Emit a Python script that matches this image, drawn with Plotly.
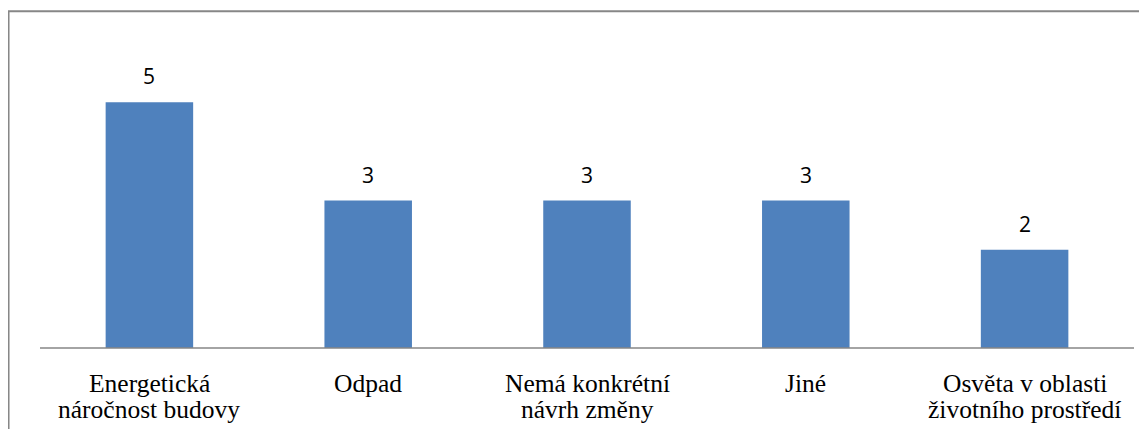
import plotly.graph_objects as go

categories = [
    "Energetická\nnáročnost budovy",
    "Odpad",
    "Nemá konkrétní\nnávrh změny",
    "Jiné",
    "Osvěta v oblasti\nživotního prostředí",
]
values = [5, 3, 3, 3, 2]

# page body has an 8px default margin; compensate so the plot sits where intended
OFF = 8
W, H = 1147 - OFF, 429 - OFF
ml, mr, mt, mb = 39.5 - OFF, 12.5, 52.8 - OFF, 81
plot_w = W - ml - mr
plot_h = H - mt - mb

SERIF = "Liberation Serif, Times New Roman, DejaVu Serif, serif"

fig = go.Figure()
fig.add_trace(go.Bar(
    x=categories, y=values,
    marker=dict(color="#4F81BD", line=dict(width=0)),
    hoverinfo="skip",
))

annotations = []
for c, v in zip(categories, values):
    annotations.append(dict(
        x=c, y=v, xref="x", yref="y", text=str(v), showarrow=False,
        yanchor="middle", yshift=26,
        font=dict(family="Open Sans", size=21, color="#000000"),
    ))
    lines = c.split("\n")
    for i, ln in enumerate(lines):
        annotations.append(dict(
            x=c, y=0, xref="x", yref="paper", text=ln, showarrow=False,
            yanchor="middle", yshift=-35 - 26 * i,
            font=dict(family=SERIF, size=25.5, color="#000000"),
        ))

# outer chart border (partly cut off by the page edge, as in the original)
bx0 = (8 - OFF - ml) / plot_w
by1 = (H - mb - (11 - OFF)) / plot_h
fig.add_shape(type="rect", xref="paper", yref="paper",
              x0=bx0, x1=1.05, y0=-0.5, y1=by1,
              line=dict(color="#878787", width=2), layer="above")
# category axis line along the plot area
fig.add_shape(type="line", xref="paper", yref="paper",
              x0=0, x1=1, y0=0, y1=0,
              line=dict(color="#868686", width=1.5), layer="above")

fig.update_layout(
    width=W, height=H,
    margin=dict(l=ml, r=mr, t=mt, b=mb, pad=0),
    paper_bgcolor="white", plot_bgcolor="white",
    showlegend=False,
    bargap=0.6,
    annotations=annotations,
    xaxis=dict(showticklabels=False, showgrid=False, zeroline=False,
               showline=False, ticks=""),
    yaxis=dict(range=[0, 6], visible=False, showgrid=False, zeroline=False),
)

fig.write_html("out.html")
